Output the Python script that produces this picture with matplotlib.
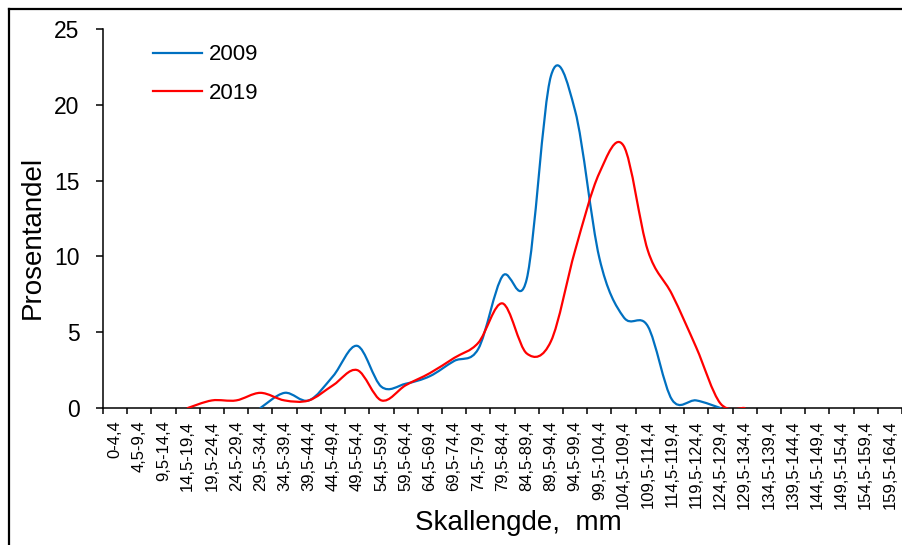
import numpy as np
import matplotlib.pyplot as plt
from matplotlib.path import Path
from matplotlib.patches import PathPatch
from matplotlib.lines import Line2D

plt.rcParams['font.family'] = ['Liberation Sans', 'DejaVu Sans']

# size classes (mm)
categories = ["0-4,4", "4,5-9,4", "9,5-14,4", "14,5-19,4", "19,5-24,4", "24,5-29,4",
              "29,5-34,4", "34,5-39,4", "39,5-44,4", "44,5-49,4", "49,5-54,4",
              "54,5-59,4", "59,5-64,4", "64,5-69,4", "69,5-74,4", "74,5-79,4",
              "79,5-84,4", "84,5-89,4", "89,5-94,4", "94,5-99,4", "99,5-104,4",
              "104,5-109,4", "109,5-114,4", "114,5-119,4", "119,5-124,4",
              "124,5-129,4", "129,5-134,4", "134,5-139,4", "139,5-144,4",
              "144,5-149,4", "149,5-154,4", "154,5-159,4", "159,5-164,4"]

# percentages, series start at the first class with data
start_2009 = 6
pct_2009 = [0, 1.0, 0.5, 2.1, 4.1, 1.4, 1.6, 2.1, 3.1, 3.9,
            8.7, 8.5, 21.9, 19.6, 9.9, 6.0, 5.4, 0.55, 0.5, 0]
start_2019 = 3
pct_2019 = [0, 0.5, 0.5, 1.0, 0.5, 0.5, 1.5, 2.5, 0.5, 1.5, 2.3, 3.3,
            4.3, 6.9, 3.6, 4.4, 10.4, 15.5, 17.3, 10.4, 7.5, 4.0, 0.3, 0]

series = [("2009", start_2009, pct_2009, "#0070C0"),
          ("2019", start_2019, pct_2019, "#FF0000")]


def smooth_path(x, y):
    """Excel-like smoothed line: Catmull-Rom segments as cubic Beziers."""
    pts = np.column_stack([x, y]).astype(float)
    n = len(pts)
    verts = [pts[0]]
    codes = [Path.MOVETO]
    for i in range(n - 1):
        p0 = pts[max(i - 1, 0)]
        p1 = pts[i]
        p2 = pts[i + 1]
        p3 = pts[min(i + 2, n - 1)]
        c1 = p1 + (p2 - p0) / 6.0
        c2 = p2 - (p3 - p1) / 6.0
        verts += [c1, c2, p2]
        codes += [Path.CURVE4] * 3
    return Path(verts, codes)


fig = plt.figure(figsize=(9.03, 5.45), dpi=100)
ax = fig.add_axes([103 / 903, 1 - 408 / 545, 799 / 903, 379 / 545])

handles = []
for label, start, vals, color in series:
    xs = np.arange(start, start + len(vals))
    patch = PathPatch(smooth_path(xs, vals), facecolor='none', edgecolor=color,
                      lw=1.6, capstyle='round', joinstyle='round', zorder=3)
    ax.add_patch(patch)
    handles.append(Line2D([], [], color=color, lw=1.6, label=label))

ax.set_xlim(-0.5, len(categories) - 0.5)
ax.set_ylim(0, 25)
ax.set_yticks(np.arange(0, 26, 5))
ax.tick_params(axis='y', direction='out', length=5, width=1.1, labelsize=16.5, pad=12)

ax.set_xticks(np.arange(len(categories)))
ax.set_xticklabels(categories, rotation=90, fontsize=12)
ax.set_xticks(np.arange(len(categories) + 1) - 0.5, minor=True)
ax.tick_params(axis='x', which='major', length=0, pad=9)
ax.tick_params(axis='x', which='minor', direction='out', length=4, width=1.1)

for side in ('top', 'right'):
    ax.spines[side].set_visible(False)
for side in ('left', 'bottom'):
    ax.spines[side].set_linewidth(1.1)

ax.set_ylabel("Prosentandel", fontsize=20)
ax.yaxis.set_label_coords(-0.072, 0.45)
ax.set_xlabel("Skallengde,  mm", fontsize=20, labelpad=2)
ax.xaxis.set_label_coords(0.52, -0.27)

ax.legend(handles=handles, loc='upper left', bbox_to_anchor=(0.0375, 1.012),
          frameon=False, fontsize=16, handlelength=2.2, handletextpad=0.3,
          labelspacing=0.8)

# chart frame (partly cropped in the original)
fig.add_artist(Line2D([9 / 903, 9 / 903], [0, 1 - 9 / 545], color='black', lw=1.6,
                      transform=fig.transFigure))
fig.add_artist(Line2D([9 / 903, 1], [1 - 9 / 545, 1 - 9 / 545], color='black', lw=1.6,
                      transform=fig.transFigure))

fig.savefig("out.png", dpi=100)
